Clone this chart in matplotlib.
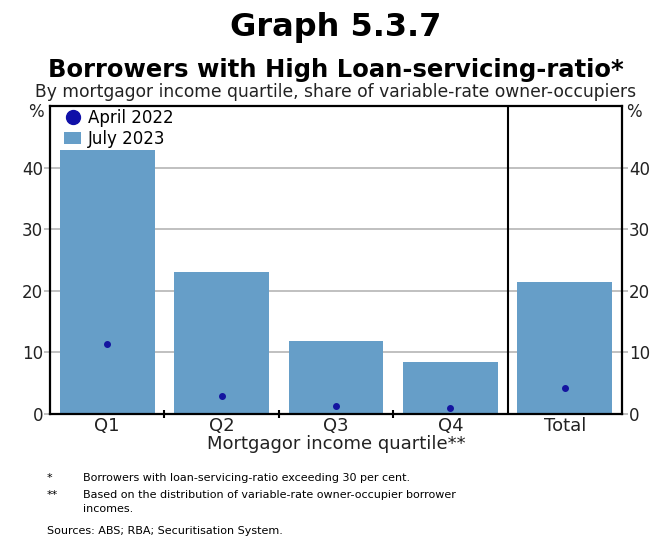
import matplotlib
matplotlib.use("Agg")
import matplotlib.pyplot as plt
from matplotlib.lines import Line2D
from matplotlib.patches import Patch

categories = ["Q1", "Q2", "Q3", "Q4", "Total"]
july_2023 = [42.9, 23.0, 11.8, 8.4, 21.5]
april_2022 = [11.3, 2.9, 1.3, 1.0, 4.2]
yticks = [0, 10, 20, 30, 40]

bar_color = "#669ec8"
dot_color = "#1414a0"

plt.rcParams['font.family'] = ['DejaVu Sans']

fig = plt.figure(figsize=(6.63, 5.38), dpi=100)
W, H = 663, 538
ax = fig.add_axes([50 / W, 1 - 414 / H, 572 / W, 308 / H])

x = list(range(len(categories)))
ax.bar(x, july_2023, width=0.83, color=bar_color, zorder=2)
ax.scatter(x, april_2022, s=16, color=dot_color, zorder=3)

ax.set_xlim(-0.5, 4.5)
ax.set_ylim(0, 50)
ax.set_yticks(yticks)
ax.set_yticklabels([str(v) for v in yticks])
ax.yaxis.grid(True, color="#b5b5b5", lw=1.2, zorder=0)
ax.tick_params(axis='y', which='both', left=True, right=True, labelleft=True,
               labelright=True, length=4, width=1.2, color="#b5b5b5",
               labelsize=12, pad=1, labelcolor="#222222")
ax.set_xticks(x)
ax.set_xticklabels(categories, fontsize=13, color="#222222")
ax.tick_params(axis='x', which='major', length=0, pad=2)
ax.set_xticks([0.5, 1.5, 2.5], minor=True)
ax.tick_params(axis='x', which='minor', direction='inout', length=6, width=1.5, color='black')
ax.axvline(3.5, color='black', lw=1.5, zorder=4)
for s in ax.spines.values():
    s.set_color('black')
    s.set_linewidth(1.6)
    s.set_zorder(5)

ax.set_xlabel("Mortgagor income quartile**", fontsize=13, labelpad=0, color="#222222")

fig.text(36 / W, 1 - 112 / H, "%", ha='center', va='center', fontsize=12, color="#222222")
fig.text(634 / W, 1 - 112 / H, "%", ha='center', va='center', fontsize=12, color="#222222")

handles = [Line2D([0], [0], marker='o', color='none', markerfacecolor='#1010a8',
                  markeredgecolor='#1010a8', markersize=10),
           Patch(facecolor=bar_color, edgecolor='none')]
leg = ax.legend(handles, ["April 2022", "July 2023"], loc='upper left', frameon=False,
                fontsize=12, handlelength=1.0, handletextpad=0.4,
                bbox_to_anchor=(0.022, 0.995), borderaxespad=0.0,
                labelspacing=0.15, borderpad=0.1)

fig.text(336 / W, 1 - 28 / H, "Graph 5.3.7", ha='center', va='center', fontsize=23, fontweight='bold')
fig.text(336 / W, 1 - 70 / H, "Borrowers with High Loan-servicing-ratio*", ha='center', va='center',
         fontsize=17.5, fontweight='bold')
fig.text(336 / W, 1 - 92 / H, "By mortgagor income quartile, share of variable-rate owner-occupiers",
         ha='center', va='center', fontsize=12.3, color="#222222")

fs = 8
fig.text(47 / W, 1 - 478 / H, "*", ha='left', va='center', fontsize=fs)
fig.text(83 / W, 1 - 478 / H, "Borrowers with loan-servicing-ratio exceeding 30 per cent.", ha='left', va='center', fontsize=fs)
fig.text(47 / W, 1 - 495 / H, "**", ha='left', va='center', fontsize=fs)
fig.text(83 / W, 1 - 495 / H, "Based on the distribution of variable-rate owner-occupier borrower", ha='left', va='center', fontsize=fs)
fig.text(83 / W, 1 - 509 / H, "incomes.", ha='left', va='center', fontsize=fs)
fig.text(47 / W, 1 - 531 / H, "Sources: ABS; RBA; Securitisation System.", ha='left', va='center', fontsize=fs)

fig.savefig("out.png", dpi=100)
